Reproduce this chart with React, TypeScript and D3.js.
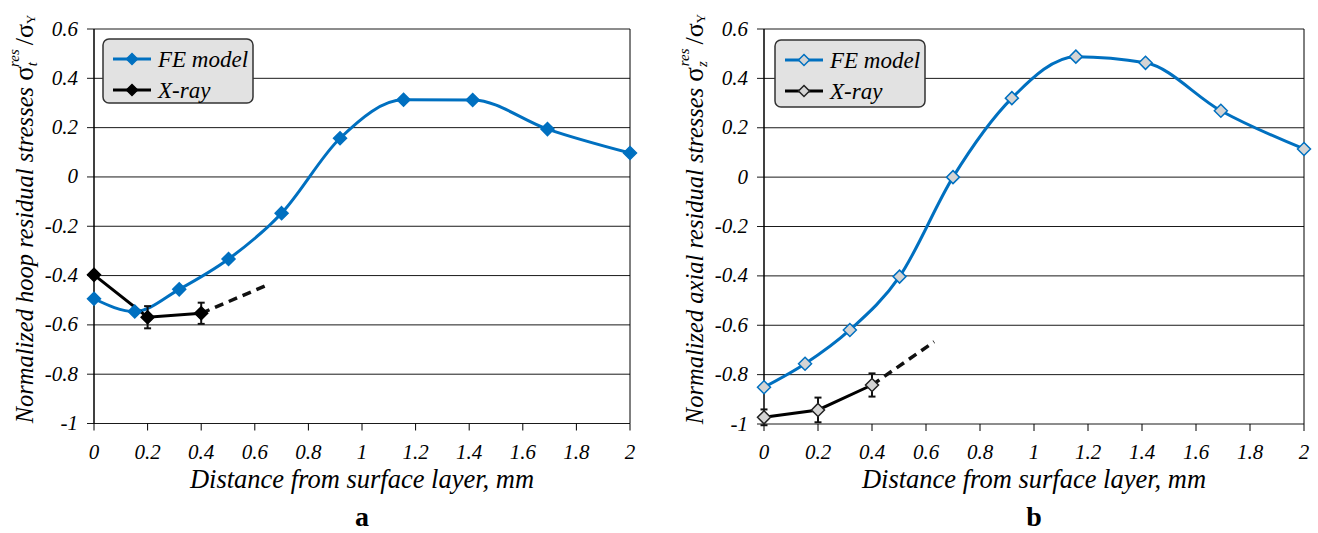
import React from 'react';
import * as d3 from 'd3';

const xTicks = [0, 0.2, 0.4, 0.6, 0.8, 1, 1.2, 1.4, 1.6, 1.8, 2];
const yTicks = [-1, -0.8, -0.6, -0.4, -0.2, 0, 0.2, 0.4, 0.6];
const feX = [0, 0.152, 0.318, 0.502, 0.70, 0.918, 1.155, 1.413, 1.692, 2.0];
const hoopFE = [-0.494, -0.546, -0.456, -0.333, -0.147, 0.157, 0.313, 0.312, 0.194, 0.097];
const axialFE = [-0.851, -0.756, -0.619, -0.403, 0.0, 0.32, 0.488, 0.463, 0.269, 0.114];
const xrayX = [0, 0.2, 0.4];
const hoopXray = [-0.397, -0.569, -0.553];
const hoopXrayErr = [0.012, 0.045, 0.043];
const axialXray = [-0.973, -0.943, -0.842];
const axialXrayErr = [0.032, 0.05, 0.047];
const hoopTrendX = [0.4, 0.65];
const hoopTrendY = [-0.553, -0.437];
const axialTrendX = [0.4, 0.63];
const axialTrendY = [-0.842, -0.667];

const SERIF = 'Liberation Serif, Tinos, Times New Roman, serif';
const BLUE = '#0070c0';

type PanelProps = {
  x0: number; x1: number; yTop: number; yBot: number;
  fe: number[]; xr: number[]; xrErr: number[]; trendX: number[]; trendY: number[];
  hollow: boolean; letter: string; sub: string; kind: string;
  legend: { x: number; y: number; w: number; h: number };
};

function Diamond({ cx, cy, r, fill, stroke, sw }: any) {
  return <path d={`M${cx},${cy - r}L${cx + r},${cy}L${cx},${cy + r}L${cx - r},${cy}Z`} fill={fill} stroke={stroke} strokeWidth={sw} />;
}

const it = { fontFamily: SERIF, fontStyle: 'italic' } as const;
const fmt = (t: number) => String(t);

function Panel(p: PanelProps) {
  const x = d3.scaleLinear().domain([0, 2]).range([p.x0, p.x1]);
  const y = d3.scaleLinear().domain([-1, 0.6]).range([p.yBot, p.yTop]);
  const feLine = d3.line<number>().x((_, i) => x(feX[i])).y((d) => y(d)).curve(d3.curveMonotoneX);
  const xrLine = d3.line<number>().x((_, i) => x(xrayX[i])).y((d) => y(d));
  const trLine = d3.line<number>().x((_, i) => x(p.trendX[i])).y((d) => y(d));
  const feFill = p.hollow ? '#d4d4d4' : BLUE;
  const feStroke = BLUE;
  const xrFill = p.hollow ? '#d4d4d4' : '#000';
  const xrStroke = p.hollow ? '#222' : '#000';
  const midX = (p.x0 + p.x1) / 2;
  const lg = p.legend;
  return (
    <g>
      {yTicks.map((t) => (
        <line key={'g' + t} x1={p.x0 - 7} x2={p.x1} y1={y(t)} y2={y(t)} stroke="#1a1a1a" strokeWidth={1} />
      ))}
      <line x1={p.x0} x2={p.x0} y1={p.yTop} y2={p.yBot} stroke="#000" strokeWidth={1.5} />
      <line x1={p.x1} x2={p.x1} y1={p.yTop} y2={p.yBot} stroke="#000" strokeWidth={1} />
      {xTicks.map((t) => (
        <line key={'xt' + t} x1={x(t)} x2={x(t)} y1={p.yBot} y2={p.yBot + 7} stroke="#000" strokeWidth={1} />
      ))}
      {yTicks.map((t) => (
        <text key={'yl' + t} x={p.x0 - 16} y={y(t) + 6.5} textAnchor="end" style={it} fontSize={21}>
          {fmt(t)}
        </text>
      ))}
      {xTicks.map((t) => (
        <text key={'xl' + t} x={x(t)} y={p.yBot + 35} textAnchor="middle" style={it} fontSize={21}>
          {fmt(t)}
        </text>
      ))}
      <text x={midX} y={p.yBot + 64} textAnchor="middle" style={it} fontSize={26.5}>
        Distance from surface layer, mm
      </text>
      <text x={midX} y={p.yBot + 102} textAnchor="middle" style={{ fontFamily: SERIF, fontWeight: 'bold' }} fontSize={28}>
        {p.letter}
      </text>
      <text transform={`translate(${p.x0 - 61},${219}) rotate(-90)`} textAnchor="middle" style={{ fontFamily: SERIF }} fontSize={24.5}>
        <tspan fontStyle="italic">{`Normalized ${p.kind} residual stresses `}</tspan>
        <tspan fontSize={27}>σ</tspan>
        <tspan fontStyle="italic" fontSize={15} dy={4}>{p.sub}</tspan>
        <tspan fontStyle="italic" fontSize={15} dx={-5} dy={-18}>res</tspan>
        <tspan dx={4} dy={14} fontSize={26}>/σ</tspan>
        <tspan fontSize={13} dy={2}>Y</tspan>
      </text>
      <path d={feLine(p.fe) || ''} fill="none" stroke={BLUE} strokeWidth={3} />
      <path d={trLine(p.trendY) || ''} fill="none" stroke="#111" strokeWidth={3.5} strokeDasharray="9,6" />
      {xrayX.map((xx, i) => (
        <g key={'e' + i} stroke="#111" strokeWidth={2}>
          <line x1={x(xx)} x2={x(xx)} y1={y(p.xr[i] - p.xrErr[i])} y2={y(p.xr[i] + p.xrErr[i])} />
          <line x1={x(xx) - 3.5} x2={x(xx) + 3.5} y1={y(p.xr[i] - p.xrErr[i])} y2={y(p.xr[i] - p.xrErr[i])} />
          <line x1={x(xx) - 3.5} x2={x(xx) + 3.5} y1={y(p.xr[i] + p.xrErr[i])} y2={y(p.xr[i] + p.xrErr[i])} />
        </g>
      ))}
      <path d={xrLine(p.xr) || ''} fill="none" stroke="#000" strokeWidth={3} />
      {p.fe.map((v, i) => (
        <Diamond key={'fm' + i} cx={x(feX[i])} cy={y(v)} r={6.5} fill={feFill} stroke={feStroke} sw={1.5} />
      ))}
      {p.xr.map((v, i) => (
        <Diamond key={'xm' + i} cx={x(xrayX[i])} cy={y(v)} r={6.5} fill={xrFill} stroke={xrStroke} sw={1.5} />
      ))}
      <rect x={lg.x} y={lg.y} width={lg.w} height={lg.h} rx={6} fill="#e2e2e2" stroke="#333" strokeWidth={1.5} />
      <line x1={lg.x + 10} x2={lg.x + 48} y1={lg.y + 20} y2={lg.y + 20} stroke={BLUE} strokeWidth={3} />
      <Diamond cx={lg.x + 29} cy={lg.y + 20} r={5.5} fill={feFill} stroke={feStroke} sw={1.5} />
      <line x1={lg.x + 10} x2={lg.x + 48} y1={lg.y + 51} y2={lg.y + 51} stroke="#000" strokeWidth={3} />
      <Diamond cx={lg.x + 29} cy={lg.y + 51} r={5.5} fill={xrFill} stroke={xrStroke} sw={1.5} />
      <text x={lg.x + 55} y={lg.y + 28} style={it} fontSize={23}>FE model</text>
      <text x={lg.x + 55} y={lg.y + 59} style={it} fontSize={23}>X-ray</text>
    </g>
  );
}

export default function App() {
  return (
    <svg width={1318} height={533} style={{ position: 'absolute', left: 0, top: 0, background: '#fff' }}>
      <rect width={1318} height={533} fill="#fff" />
      <Panel x0={94} x1={630} yTop={29} yBot={423.5} fe={hoopFE} xr={hoopXray} xrErr={hoopXrayErr}
        trendX={hoopTrendX} trendY={hoopTrendY} hollow={false} letter="a" sub="t" kind="hoop"
        legend={{ x: 103, y: 39, w: 150, h: 64 }} />
      <Panel x0={764} x1={1304} yTop={29} yBot={424} fe={axialFE} xr={axialXray} xrErr={axialXrayErr}
        trendX={axialTrendX} trendY={axialTrendY} hollow={true} letter="b" sub="z" kind="axial"
        legend={{ x: 775, y: 40, w: 150, h: 67 }} />
    </svg>
  );
}
